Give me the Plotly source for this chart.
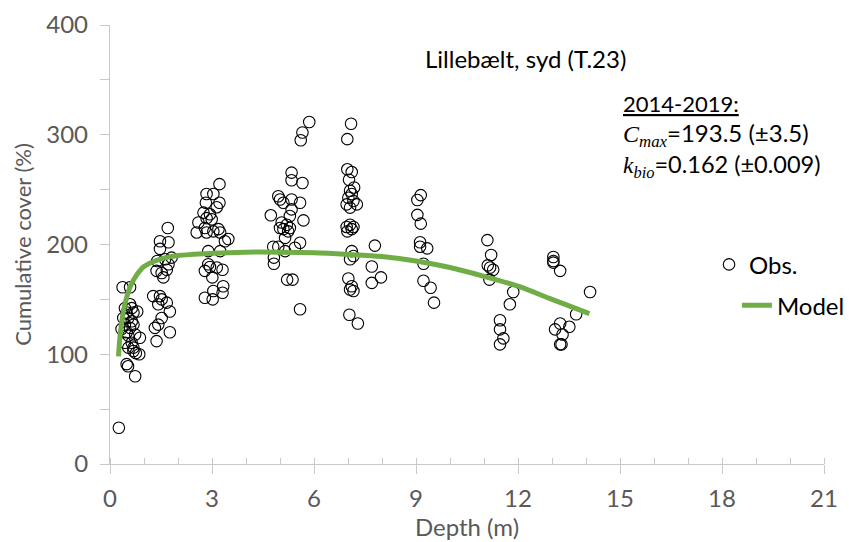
import plotly.graph_objects as go

# Observed cumulative cover (%) vs depth (m), 2014-2019
depth = [
    0.26, 0.37, 0.59, 0.49, 0.53, 0.74, 0.86, 0.76, 0.69, 0.88,
    0.44, 0.59, 0.64, 0.49, 0.69, 0.80, 0.54, 0.39, 0.64, 0.44,
    0.69, 0.59, 0.34, 0.49, 0.74, 0.54, 0.44, 0.64, 0.69, 0.54,
    1.70, 1.47, 1.72, 1.47, 1.39, 1.62, 1.81, 1.72, 1.37, 1.52,
    1.67, 1.57, 1.27, 1.47, 1.52, 1.42, 1.67, 1.76, 1.52, 1.42,
    1.32, 1.37, 1.76,
    3.22, 2.84, 3.04, 2.82, 3.22, 3.14, 2.75, 2.94, 2.84, 2.60,
    2.99, 2.79, 3.04, 3.19, 3.24, 2.55, 2.84, 3.48, 3.38, 2.89,
    3.24, 2.89, 2.94, 2.79, 3.14, 3.31, 3.01, 3.33, 3.31, 3.04,
    2.79, 3.02,
    5.86, 5.66, 5.61, 5.34, 5.34, 5.66, 4.95, 5.00, 5.34, 5.59,
    5.10, 5.34, 4.73, 5.29, 5.69, 5.05, 5.20, 5.00, 5.29, 5.10,
    5.24, 5.15, 5.59, 5.44, 4.80, 4.95, 5.15, 4.82, 4.82, 5.21,
    5.37, 5.59,
    7.09, 6.98, 6.98, 7.11, 7.03, 7.18, 7.06, 7.11, 7.01, 7.16,
    6.96, 7.26, 7.06, 7.06, 6.96, 7.16, 6.98, 7.11, 7.11, 7.16,
    7.06, 7.01, 7.11, 7.16, 7.06, 7.04, 7.29,
    7.79, 7.70, 7.97, 7.70,
    9.14, 9.04, 9.04, 9.14, 9.12, 9.12, 9.33, 9.22, 9.22, 9.43,
    9.53,
    11.10, 11.21, 11.11, 11.18, 11.27, 11.16, 11.86, 11.76, 11.47, 11.47,
    11.57, 11.47,
    13.04, 13.04, 13.04, 13.24, 14.12, 13.71, 13.24, 13.51, 13.09, 13.31,
    13.24, 13.28,
]
cover = [
    33, 161, 161, 91, 89, 80, 100, 101, 103, 115,
    142, 145.5, 142, 138, 138, 139, 133, 133, 130, 127,
    127, 124, 123, 120, 118, 117, 110.5, 110.5, 106, 106,
    215, 203, 202, 196, 185, 186.5, 188, 182, 176, 174,
    177, 170, 153, 153, 150, 145.5, 147, 139, 133, 127,
    124, 112, 120,
    255, 246, 246, 238, 238, 234, 229, 227.5, 224, 220,
    223, 215, 212, 214, 211, 211, 211, 205, 203, 194,
    194, 182, 179.5, 176, 179, 177, 170, 162, 156, 157.6,
    151.5, 150,
    311.6, 302, 295, 265.5, 258.5, 256, 244, 241, 241, 238,
    238, 232, 226.6, 226, 222, 220, 218, 215, 215, 214,
    212, 206, 201.6, 197, 198, 198, 194, 188, 182.5, 168,
    168, 141,
    310, 296, 268.5, 266, 259, 252, 249, 246, 242.6, 239.6,
    236.6, 236.6, 233.6, 218, 216, 216, 212, 214, 194, 189.5,
    186.5, 169, 162, 157.6, 159, 136, 128,
    199, 180, 170, 165,
    245, 240.5, 227, 219, 202, 198, 196.5, 182.5, 167, 160.6,
    147,
    204, 190.5, 181, 179, 177, 168, 156.7, 145.5, 131, 122.7,
    114.5, 109,
    188.6, 185, 183.5, 176, 156.7, 136.4, 128, 125, 122.7, 118,
    109, 109,
]

# Fitted model curve
model_depth = [0.25, 0.30, 0.40, 0.50, 0.60, 0.80, 1.0, 1.5, 2.0, 3.0,
               4.0, 5.0, 6.0, 7.0, 8.0, 9.0, 10.0, 11.0, 12.0, 13.0, 14.1]
model_cover = [98, 118, 140, 153, 162, 173, 180, 187, 190, 192,
               193, 193, 192.5, 191, 189, 185, 179, 171, 162, 150, 137]

x_ticks = [0, 3, 6, 9, 12, 15, 18, 21]
y_ticks = [0, 100, 200, 300, 400]

FONT = "Lato"
GREY_TXT = "#595959"
AXIS_LINE = "#C9C9C9"
GREEN = "#70AD47"
SIZE = 24

fig = go.Figure()

fig.add_trace(go.Scatter(
    x=depth, y=cover, mode="markers", name="Obs.",
    marker=dict(symbol="circle-open", size=11.5, color="black",
                line=dict(width=1.1, color="black")),
    legend="legend",
))
fig.add_trace(go.Scatter(
    x=model_depth, y=model_cover, mode="lines", name="Model",
    line=dict(color=GREEN, width=5, shape="spline", smoothing=0.8),
    legend="legend2",
))

legend_common = dict(
    xanchor="left", yanchor="top", bgcolor="rgba(0,0,0,0)",
    font=dict(family=FONT, size=SIZE, color="black"),
)

fig.update_layout(
    width=849, height=542,
    margin=dict(l=110, r=25, t=25, b=78, autoexpand=False),
    paper_bgcolor="white", plot_bgcolor="white",
    font=dict(family=FONT, size=SIZE, color=GREY_TXT),
    showlegend=True,
    legend=dict(x=0.839, y=0.505, **legend_common),
    legend2=dict(x=0.878, y=0.412, **legend_common),
    xaxis=dict(
        range=[0, 21], tickvals=x_ticks, ticktext=[str(v) for v in x_ticks],
        automargin=False,
        showgrid=False, zeroline=False,
        showline=True, linecolor=AXIS_LINE, linewidth=1.3,
        ticks="outside", ticklen=9, tickcolor=AXIS_LINE, tickwidth=1.3,
        minor=dict(dtick=1, ticks="inside", ticklen=6, tickcolor=AXIS_LINE, tickwidth=1.3),
        ticklabelstandoff=4,
        title=dict(text="Depth (m)", font=dict(family=FONT, size=SIZE, color=GREY_TXT), standoff=7),
        tickfont=dict(family=FONT, size=SIZE, color=GREY_TXT),
    ),
    yaxis=dict(
        range=[0, 400], tickvals=y_ticks,
        automargin=False,
        showgrid=False, zeroline=False,
        showline=True, linecolor=AXIS_LINE, linewidth=1.3,
        ticks="outside", ticklen=9, tickcolor=AXIS_LINE, tickwidth=1.3,
        minor=dict(dtick=50, ticks="outside", ticklen=9, tickcolor=AXIS_LINE, tickwidth=1.3),
        ticklabelstandoff=7,
        title=dict(text="Cumulative cover (%)", font=dict(family=FONT, size=22, color=GREY_TXT), standoff=8),
        tickfont=dict(family=FONT, size=SIZE, color=GREY_TXT),
    ),
)

serif = "font-family:'Liberation Serif','DejaVu Serif',serif"
notes = [
    (0.438, 0.923, "Lillebælt, syd (T.23)", SIZE),
    (0.716, 0.822, "<u>2014-2019:</u>", 22),
    (0.716, 0.750, f"<span style=\"{serif}\"><i>C</i><sub><i>max</i></sub></span>=193.5 (±3.5)", SIZE),
    (0.716, 0.678, f"<span style=\"{serif}\"><i>k</i><sub><i>bio</i></sub></span>=0.162 (±0.009)", 23.5),
]
for x, y, txt, fs in notes:
    fig.add_annotation(
        x=x, y=y, xref="paper", yref="paper", xanchor="left", yanchor="middle",
        text=txt, showarrow=False, font=dict(family=FONT, size=fs, color="black"),
    )

fig.write_html("out.html")
